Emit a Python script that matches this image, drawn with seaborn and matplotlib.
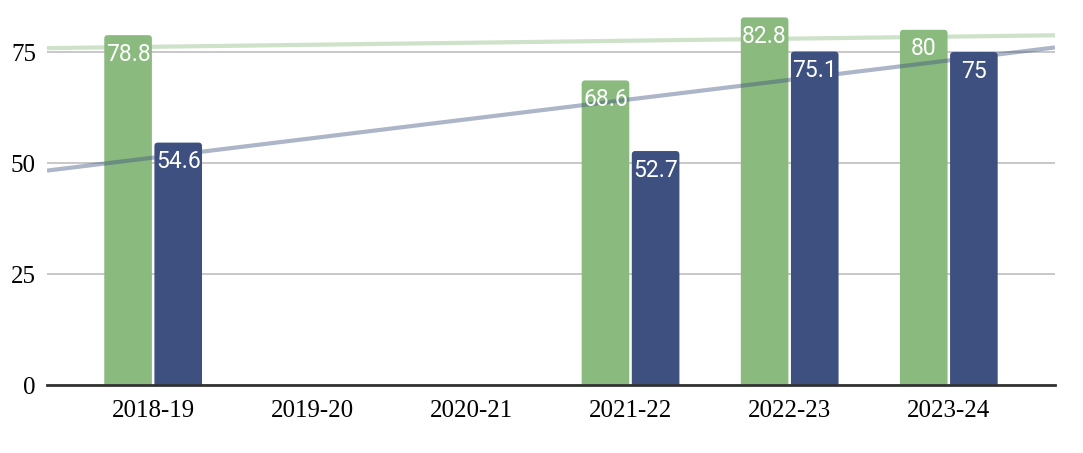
import numpy as np
import pandas as pd
import seaborn as sns
import matplotlib.pyplot as plt
from matplotlib.patches import FancyBboxPatch

years = ["2018-19", "2019-20", "2020-21", "2021-22", "2022-23", "2023-24"]
series1 = [78.8, np.nan, np.nan, 68.6, 82.8, 80]
series2 = [54.6, np.nan, np.nan, 52.7, 75.1, 75]
series_names = ["Series 1", "Series 2"]
colors = ["#8bba7f", "#3d5080"]

df = pd.DataFrame({
    "Year": years * 2,
    "Value": series1 + series2,
    "Series": [series_names[0]] * len(years) + [series_names[1]] * len(years),
})

sns.set_theme(style="white")
plt.rcParams["font.family"] = ["Liberation Serif", "DejaVu Serif"]

fig = plt.figure(figsize=(10.83, 4.53), dpi=100)
ax = fig.add_axes([0.0434, 0.150, 0.9307, 0.843])

sns.barplot(data=df, x="Year", y="Value", hue="Series", order=years,
            hue_order=series_names, palette=colors, width=0.63, gap=0.05,
            saturation=1, legend=False, linewidth=0, ax=ax, zorder=2)

ax.set_xlim(-0.667, 5.667)
ax.set_ylim(0, 86)

# rounded tops: swap the plain rectangles for rounded boxes
for cont in ax.containers:
    for p in cont:
        h = p.get_height()
        if np.isnan(h):
            continue
        rb = FancyBboxPatch((p.get_x(), -2), p.get_width(), h + 2,
                            boxstyle="round,pad=0,rounding_size=0.022",
                            mutation_aspect=36, facecolor=p.get_facecolor(),
                            edgecolor="none", zorder=2)
        ax.add_patch(rb)
        p.set_visible(False)

# linear trend lines over the years that have data
xs = np.arange(len(years))
xl = np.array(ax.get_xlim())
for vals, col in zip([series1, series2], colors):
    v = np.array(vals, dtype=float)
    m = ~np.isnan(v)
    k, b = np.polyfit(xs[m], v[m], 1)
    ax.plot(xl, k * xl + b, color=col, alpha=0.42, lw=3, zorder=3,
            solid_capstyle="butt")

for cont in ax.containers:
    labels = [f"{b.get_height():g}" if not np.isnan(b.get_height()) else "" for b in cont]
    ax.bar_label(cont, labels=labels, label_type="edge", padding=-22,
                 color="white", fontsize=16.5, family="Roboto", zorder=4)

ax.set_yticks([0, 25, 50, 75])
ax.yaxis.grid(True, color="#c4c4c4", lw=1.3, zorder=0)
ax.set_axisbelow(True)
for s in ["top", "right", "left"]:
    ax.spines[s].set_visible(False)
ax.spines["bottom"].set_color("#333333")
ax.spines["bottom"].set_linewidth(2)
ax.spines["bottom"].set_zorder(5)
ax.tick_params(axis="both", length=0, labelsize=18, colors="black")
ax.tick_params(axis="x", pad=11)
ax.tick_params(axis="y", pad=8)
ax.set_xlabel("")
ax.set_ylabel("")

fig.savefig("out.png", dpi=100)
